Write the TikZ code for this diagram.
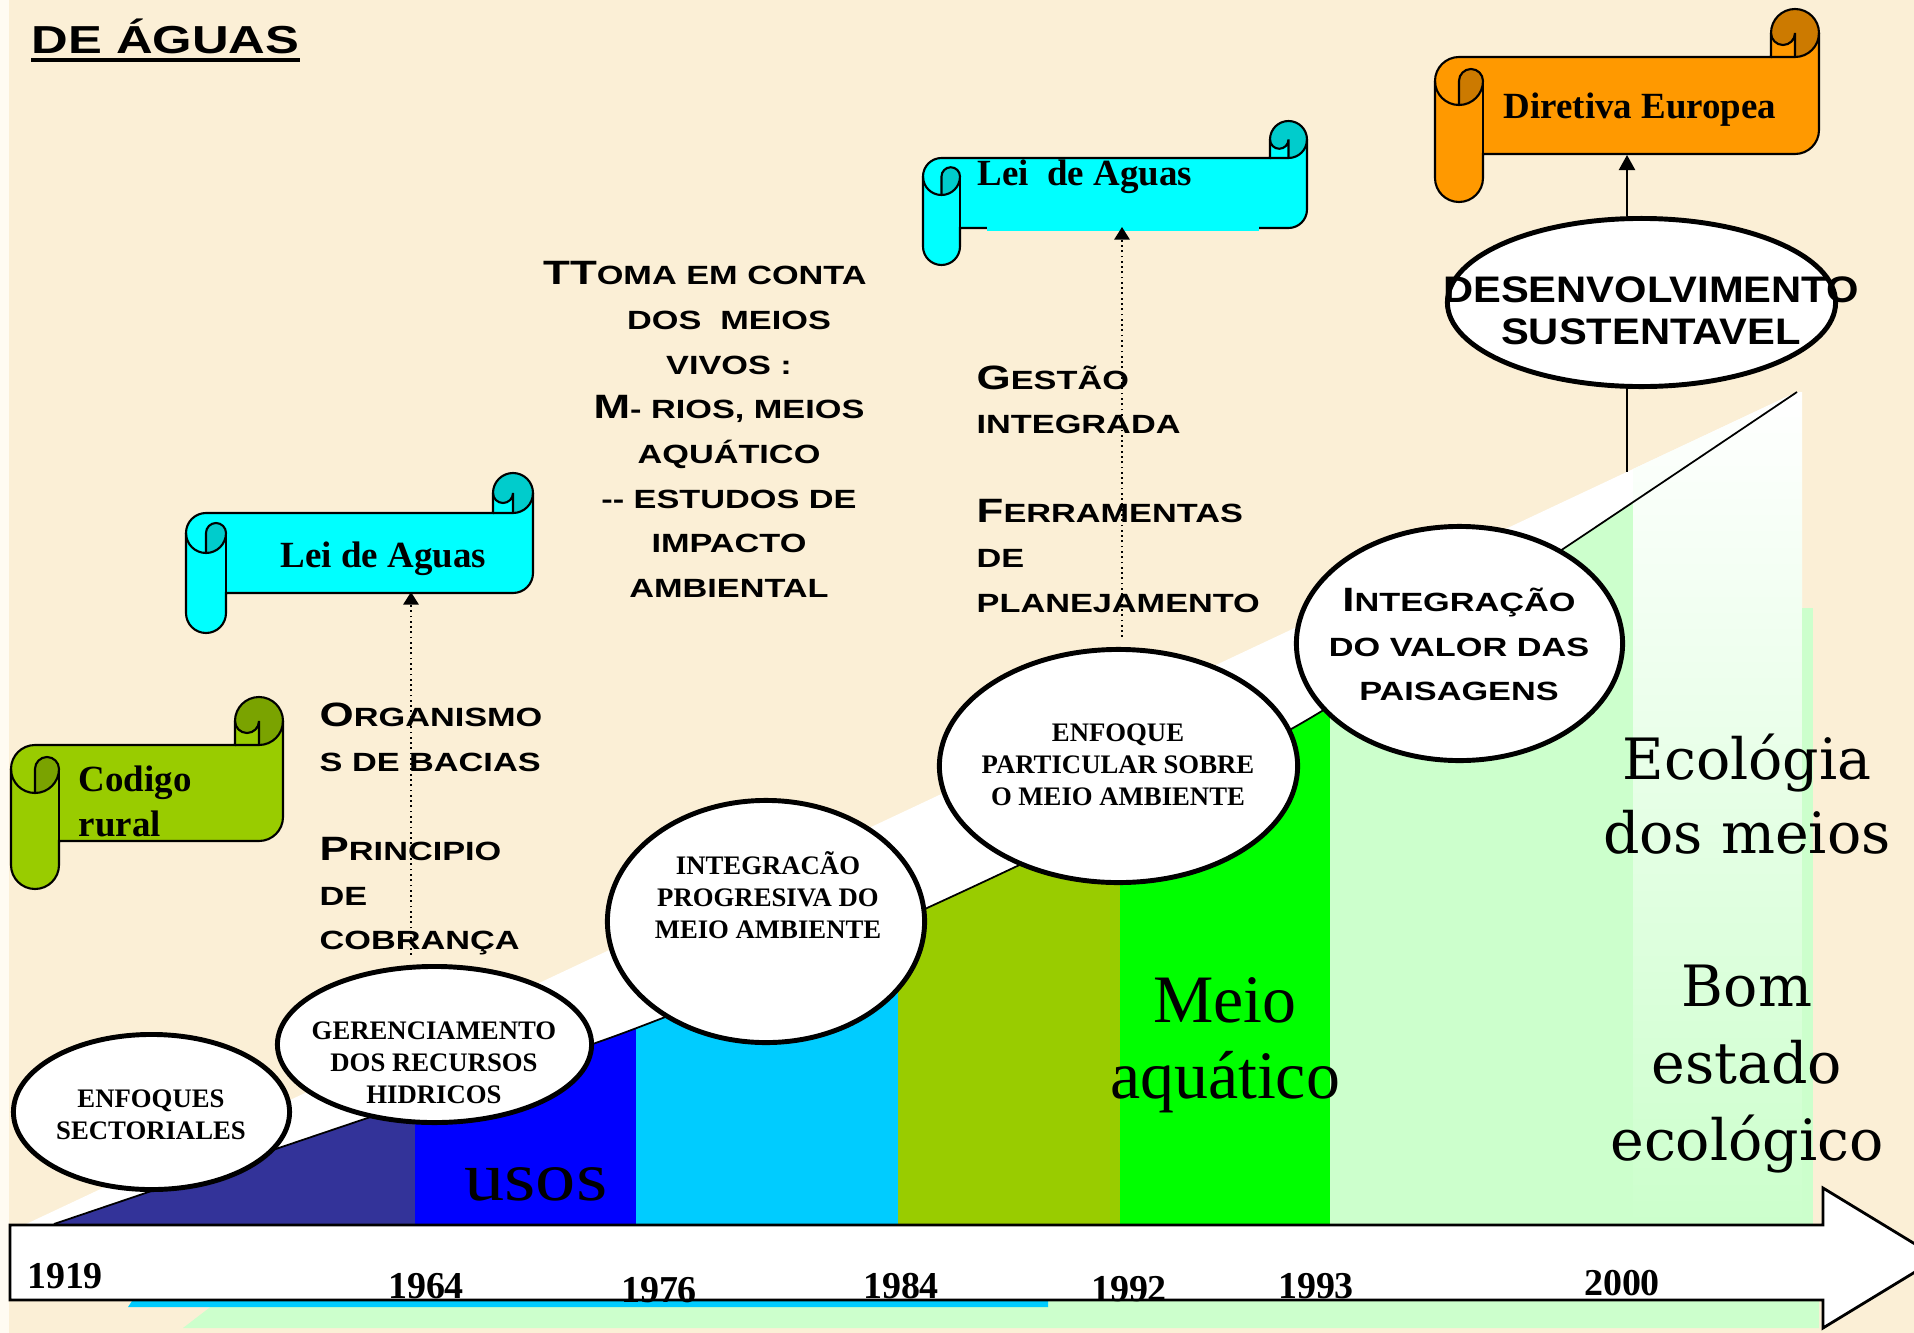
\documentclass[tikz,border=0pt]{standalone}
\usepackage{fontspec}
\usepackage{xcolor}
\usepackage{tikz}
\setmainfont{Liberation Serif}
\newfontfamily\copperfont[FakeStretch=1.3]{Liberation Sans}
\newfontfamily\widesans[FakeStretch=1.13]{Liberation Sans}
\newfontfamily\bookfont{DejaVu Serif}
\newfontfamily\bigserif[FakeStretch=1.15]{Liberation Serif}
\usetikzlibrary{shapes.geometric,arrows.meta,calc}
\definecolor{paper}{HTML}{FBEFD6}
\definecolor{paperedge}{HTML}{FFFBF2}
\definecolor{bandnavy}{HTML}{333399}
\definecolor{bandblue}{HTML}{0000FF}
\definecolor{bandcyan}{HTML}{00CCFF}
\definecolor{bandolive}{HTML}{99CC00}
\definecolor{bandgreen}{HTML}{00FF00}
\definecolor{palegreen}{HTML}{CCFFCC}
\definecolor{scrollcyan}{HTML}{00FFFF}
\definecolor{scrollcyandark}{HTML}{00CCCC}
\definecolor{scrollgreen}{HTML}{99CC00}
\definecolor{scrollgreendark}{HTML}{7AA300}
\definecolor{scrollorange}{HTML}{FF9900}
\definecolor{scrollorangedark}{HTML}{CC7A00}

\newcommand{\cpL}{\fontsize{9.6}{12.7}\selectfont}
% horizontal scroll: left, top, right, bottom, roll size, fill, curl colour
\newcommand{\hscroll}[7]{%
  \pgfmathsetmacro\scL{#1}\pgfmathsetmacro\scT{#2}%
  \pgfmathsetmacro\scR{#3}\pgfmathsetmacro\scB{#4}%
  \pgfmathsetmacro\scH{#5/2}\pgfmathsetmacro\scQ{#5/4}%
  \pgfmathsetmacro\scXa{#1+#5/2}\pgfmathsetmacro\scXb{#1+#5}%
  \pgfmathsetmacro\scXc{#3-#5}\pgfmathsetmacro\scXd{#3-#5/2}%
  \pgfmathsetmacro\scYa{#2+#5/2}\pgfmathsetmacro\scYb{#2+#5}%
  \pgfmathsetmacro\scYc{#2+1.5*#5}\pgfmathsetmacro\scYd{#2+2*#5}%
  \pgfmathsetmacro\scYe{#4-#5}\pgfmathsetmacro\scYf{#4-1.5*#5}%
  \pgfmathsetmacro\scYg{#4-#5/2}%
  \def\scOutline{(\scL,\scYc) arc[start angle=180,end angle=270,radius=\scH]
    -- (\scXc,\scYb) -- (\scXc,\scYa) arc[start angle=180,end angle=360,radius=\scH]
    -- (\scR,\scYf) arc[start angle=0,end angle=90,radius=\scH]
    -- (\scXb,\scYe) -- (\scXb,\scYg) arc[start angle=0,end angle=180,radius=\scH] -- cycle}%
  \fill[#6] \scOutline;
  \fill[#7] (\scXa,\scYd) arc[start angle=90,end angle=0,radius=\scH]
    arc[start angle=0,end angle=-180,radius=\scQ] -- cycle;
  \fill[#7] (\scXd,\scYb) arc[start angle=90,end angle=-180,radius=\scH]
    arc[start angle=180,end angle=0,radius=\scQ] -- cycle;
  \draw[line width=0.6pt] \scOutline;
  \draw[line width=0.6pt] (\scXc,\scYb) -- (\scXd,\scYb) arc[start angle=90,end angle=0,radius=\scH];
  \draw[line width=0.6pt] (\scXd,\scYb) -- (\scXd,\scYa) arc[start angle=0,end angle=180,radius=\scQ];
  \draw[line width=0.6pt] (\scXa,\scYd) -- (\scXa,\scYc) arc[start angle=180,end angle=360,radius=\scQ]
    arc[start angle=0,end angle=180,radius=\scH];
  \draw[line width=0.6pt] (\scXb,\scYc) -- (\scXb,\scYe);
}

\begin{document}
\begin{tikzpicture}[x=0.01cm,y=-0.01cm,
  oval/.style={ellipse,draw,line width=1.4pt,fill=white,inner sep=0pt},
  ovaltext/.style={font=\bfseries\fontsize{7.6}{9.1}\selectfont,align=center,inner sep=0pt},
  cptext/.style={font=\copperfont\bfseries\fontsize{7.5}{12.7}\selectfont,inner sep=0pt},
  year/.style={font=\bfseries\fontsize{10.8}{13}\selectfont,anchor=base,inner sep=0pt},
  scrolltext/.style={font=\bfseries\fontsize{10.5}{12.8}\selectfont,inner sep=0pt},
  lawlink/.style={densely dotted,line width=0.5pt,-{Triangle[width=4.4pt,length=3.6pt]}}]
  \clip (0,0) rectangle (1914,1333);
  \fill[paper] (0,0) rectangle (1914,1333);
  \fill[paperedge] (0,0) rectangle (9,1333);

  % Ramp and periods
  \fill[palegreen] (183,1328) -- (226,1295) -- (1819,1295) -- (1819,1328) -- cycle;
  \fill[bandcyan] (128,1307) -- (136,1295) -- (1048,1295) -- (1048,1307) -- cycle;
  \fill[white] (24,1225) -- (1797,392) -- (1802,392) -- (1802,1225) -- cycle;
  \begin{scope}
    \clip (24,1225) -- (1797,392) -- (1802,392) -- (1802,1225) -- cycle;
    \shade[top color=white,bottom color=palegreen] (1633,392) rectangle (1802,1225);
  \end{scope}
  \begin{scope}
    \clip plot[smooth] coordinates {(54,1224) (415,1102) (634,1029) (927,908) (1293,728) (1566,547) (1797,392)}
      -- (1797,1230) -- (54,1230) -- cycle;
    \fill[bandnavy] (40,380) rectangle (415,1226);
    \fill[bandblue] (415,380) rectangle (636,1226);
    \fill[bandcyan] (636,380) rectangle (898,1226);
    \fill[bandolive] (898,380) rectangle (1120,1226);
    \fill[bandgreen] (1120,380) rectangle (1330,1226);
    \fill[palegreen] (1330,380) rectangle (1633,1226);
  \end{scope}
  \fill[palegreen] (1802,608) rectangle (1813,1225);
  \draw[line width=0.5pt] plot[smooth] coordinates {(54,1224) (415,1102) (634,1029) (927,908) (1293,728) (1566,547) (1797,392)};

  % Time axis
  \draw[line width=0.8pt,fill=white] (10,1225) -- (1823,1225) -- (1823,1188) -- (1938,1258)
    -- (1823,1328) -- (1823,1300) -- (10,1300) -- cycle;
  \node[year] (y1919) at (65,1288) {1919};
  \node[year] (y1964) at (426,1298) {1964};
  \node[year] (y1976) at (659,1302) {1976};
  \node[year] (y1984) at (901,1298) {1984};
  \node[year] (y1992) at (1129,1301) {1992};
  \node[year] (y1993) at (1316,1298) {1993};
  \node[year] (y2000) at (1622,1295) {2000};

  % Period labels
  \node[font=\bigserif\fontsize{19.9}{24}\selectfont,anchor=base,inner sep=0pt] (usos) at (536,1200) {usos};
  \node[font=\fontsize{19.3}{21.6}\selectfont,align=center,inner sep=0pt] (meio) at (1225,1045) {Meio\\aquático};
  \node[font=\bookfont\fontsize{16.2}{21.05}\selectfont,align=center,inner sep=0pt] (ecologia) at (1747,794) {Ecológia\\dos meios};
  \node[font=\bookfont\fontsize{16.2}{21.8}\selectfont,align=center,inner sep=0pt] (bomestado) at (1747,1069) {Bom\\estado\\ecológico};

  % Approaches
  \node[oval,minimum width=3.14cm,minimum height=1.56cm] (gerenc) at (434.5,1044.5) {};
  \node[oval,minimum width=2.76cm,minimum height=1.55cm] (enfoques) at (151.5,1112) {};
  \node[oval,minimum width=3.17cm,minimum height=2.42cm] (progresiva) at (766,921.5) {};
  \node[oval,minimum width=3.58cm,minimum height=2.33cm] (particular) at (1118.5,766) {};
  \node[oval,minimum width=3.26cm,minimum height=2.34cm] (paisagem) at (1459.5,643.5) {};
  \node[oval,minimum width=3.88cm,minimum height=1.68cm] (desenv) at (1641.5,302.5) {};
  \node[ovaltext] (enfoquestxt) at (151,1114.5) {ENFOQUES\\SECTORIALES};
  \node[ovaltext] (gerenctxt) at (434,1063) {GERENCIAMENTO\\DOS RECURSOS\\HIDRICOS};
  \node[ovaltext] (progresivatxt) at (768,895) {INTEGRACÃO\\PROGRESIVA DO\\MEIO AMBIENTE};
  \node[ovaltext] (particulartxt) at (1118,765) {ENFOQUE\\PARTICULAR SOBRE\\O MEIO AMBIENTE};
  \node[cptext,align=center] (paisagemtxt) at (1459,644.5) {{\cpL I}NTEGRAÇÃO\\DO VALOR DAS\\PAISAGENS};
  \node[font=\widesans\bfseries\fontsize{10.5}{11.95}\selectfont,align=center,inner sep=0pt] (desenvtxt) at (1651,310.5) {DESENVOLVIMENTO\\SUSTENTAVEL};

  % Laws
  \hscroll{11}{697}{283}{889}{48}{scrollgreen}{scrollgreendark}
  \hscroll{186}{473}{533}{633}{40}{scrollcyan}{scrollcyandark}
  \hscroll{923}{121}{1307}{265}{37}{scrollcyan}{scrollcyandark}
  \fill[scrollcyan] (987,225.5) rectangle (1259,231);
  \hscroll{1435}{9}{1819}{202}{48}{scrollorange}{scrollorangedark}
  \node[scrolltext,anchor=west,align=left] (codigo) at (78,801) {Codigo\\rural};
  \node[scrolltext,anchor=base west] (leiA) at (280,567) {Lei de Aguas};
  \node[scrolltext,anchor=base west] (leiB) at (977,185) {Lei\ \ de Aguas};
  \node[scrolltext,anchor=base west] (diretiva) at (1503,118) {Diretiva Europea};

  % Notes
  \node[font=\copperfont\bfseries\fontsize{11.1}{13}\selectfont,anchor=base west,inner sep=0pt] (titulo) at (31,53) {DE ÁGUAS};
  \draw[line width=1.1pt] ($(titulo.base west)+(0,7)$) -- ($(titulo.base east)+(0,7)$);
  \node[cptext,align=left,anchor=west] (bacias) at (319,829) {{\cpL O}RGANISMO\\S DE BACIAS\\[12.7pt]{\cpL P}RINCIPIO\\DE\\COBRANÇA};
  \node[cptext,align=center] (toma) at (729,429.5) {{\cpL TT}OMA EM CONTA\hspace*{13.7pt}\\DOS\ \ MEIOS\\VIVOS :\\{\cpL M}- RIOS, MEIOS\hspace*{13.7pt}\\AQUÁTICO\\-{}- ESTUDOS DE\hspace*{13.7pt}\\IMPACTO\\AMBIENTAL};
  \node[cptext,align=left,anchor=west] (gestao) at (976,489) {{\cpL G}ESTÃO\\INTEGRADA\\[12.7pt]{\cpL F}ERRAMENTAS\\DE\\PLANEJAMENTO};

  % Arrows
  \coordinate (leiAfoot) at (411,592);
  \coordinate (leiBfoot) at (1122,227);
  \coordinate (diretivafoot) at (1627,155);
  \coordinate (rampa) at (1627,472);
  \draw[lawlink,shorten <=2.6pt] (gerenc.north -| leiAfoot) -- (leiAfoot);
  \draw[lawlink,shorten <=2.8pt] (particular.north -| leiBfoot) -- (leiBfoot);
  \draw[line width=0.6pt,-{Triangle[width=4.6pt,length=4.3pt]}] (desenv.north -| diretivafoot) -- (diretivafoot);
  \draw[line width=0.6pt] (desenv.south -| rampa) -- (rampa);
\end{tikzpicture}
\end{document}
